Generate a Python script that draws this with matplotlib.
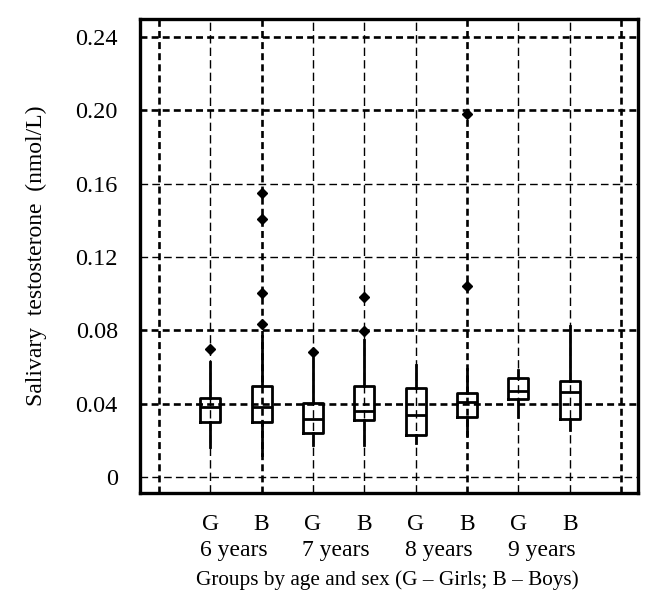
import numpy as np
import matplotlib
matplotlib.use('Agg')
import matplotlib.pyplot as plt

plt.rcParams['font.family'] = ['Liberation Serif', 'DejaVu Serif']
plt.rcParams['lines.scale_dashes'] = False

# box statistics (nmol/L)
groups = ['G', 'B', 'G', 'B', 'G', 'B', 'G', 'B']
ages = ['6 years', '7 years', '8 years', '9 years']
q1 = [0.0300, 0.0300, 0.0238, 0.0311, 0.0229, 0.0326, 0.0424, 0.0316]
med = [0.0384, 0.0380, 0.0315, 0.0362, 0.0338, 0.0411, 0.0471, 0.0462]
q3 = [0.0433, 0.0498, 0.0405, 0.0498, 0.0487, 0.0460, 0.0542, 0.0525]
whislo = [0.0165, 0.0120, 0.0175, 0.0175, 0.0184, 0.0229, 0.0329, 0.0256]
whishi = [0.0630, 0.0770, 0.0650, 0.0750, 0.0611, 0.0588, 0.0584, 0.0826]
outliers = [[0.0697], [0.0833, 0.1002, 0.1406, 0.1548], [0.0680],
            [0.0797, 0.0984], [], [0.1040, 0.1980], [], []]

yticks = [0, 0.04, 0.08, 0.12, 0.16, 0.20, 0.24]
ytick_labels = ['0', '0.04', '0.08', '0.12', '0.16', '0.20', '0.24']

fig = plt.figure(figsize=(6.6, 6.0), dpi=100)
ax = fig.add_axes([0.2121, 0.1783, 0.7545, 0.79])

pos = np.arange(1, len(groups) + 1)

# dashed grid, some lines heavier like in the original
for y in yticks:
    if y in (0.24, 0.20, 0.08, 0.04):
        ax.axhline(y, color='black', lw=1.9, ls=(0, (5, 3)), zorder=1)
    else:
        ax.axhline(y, color='black', lw=1.0, ls=(0, (5.5, 3)), zorder=1)
for x in range(0, 10):
    if x in (0, 2, 6, 9):
        ax.axvline(x, color='black', lw=1.9, ls=(0, (5, 3)), zorder=1)
    else:
        ax.axvline(x, color='black', lw=1.0, ls=(0, (6, 3)), zorder=1)

stats = []
for i in range(len(groups)):
    stats.append(dict(med=med[i], q1=q1[i], q3=q3[i], whislo=whislo[i],
                      whishi=whishi[i], fliers=outliers[i]))

ax.bxp(stats, positions=pos, widths=0.39, showcaps=False, patch_artist=False,
       boxprops=dict(color='black', lw=2.0),
       medianprops=dict(color='black', lw=2.0),
       whiskerprops=dict(color='black', lw=2.0),
       flierprops=dict(marker='D', markersize=5.5, markerfacecolor='black',
                       markeredgecolor='black'),
       zorder=3)

ax.set_xlim(-0.37, 9.33)
ax.set_ylim(-0.0087, 0.2498)
ax.set_yticks(yticks)
ax.set_yticklabels(ytick_labels, fontsize=17.5)
ax.set_xticks(pos)
ax.set_xticklabels(groups, fontsize=17)
ax.tick_params(axis='y', length=0, pad=16)
ax.tick_params(axis='x', length=0, pad=15)

for i, a in enumerate(ages):
    ax.text(1.45 + 2 * i, -0.0431, a, ha='center', va='baseline', fontsize=17)
ax.text(4.45, -0.0589, 'Groups by age and sex (G \u2013 Girls; B \u2013 Boys)',
        ha='center', va='baseline', fontsize=15.3)

ax.set_ylabel('Salivary  testosterone  (nmol/L)', fontsize=17, labelpad=20)

for s in ax.spines.values():
    s.set_linewidth(2.4)

fig.savefig('out.png', dpi=100)
